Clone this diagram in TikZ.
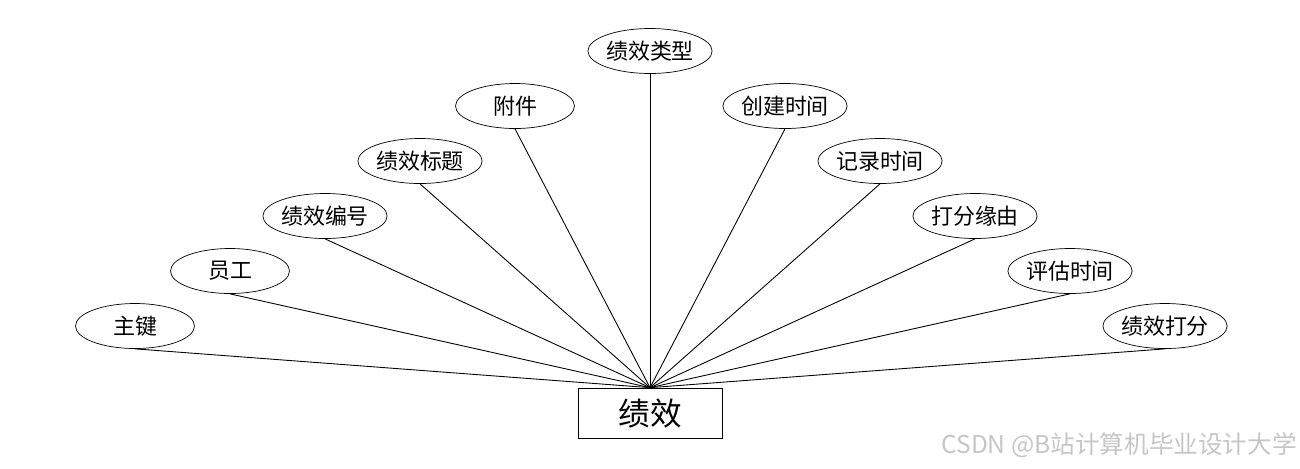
\documentclass[tikz,border=0pt]{standalone}
\usepackage{fontspec}
\setmainfont{Noto Sans CJK SC}
\usetikzlibrary{shapes.geometric}

\begin{document}
\begin{tikzpicture}[
  x=0.02cm, y=-0.02cm,
  font=\fontsize{12.5}{14}\selectfont,
  attr/.style={draw, ellipse, minimum width=2.38cm, minimum height=0.9cm, inner sep=0pt},
  ent/.style={draw, minimum width=2.88cm, minimum height=1cm, inner sep=0pt, font=\fontsize{18}{20}\selectfont},
  link/.style={line width=0.5pt}
]
\useasboundingbox (0,0) rectangle (1300,468);

% Entity
\node[ent] (jx) at (650,413) {绩效};

% Attributes, left side
\node[attr] (zj)   at (135,326) {主键};
\node[attr] (yg)   at (230,271) {员工};
\node[attr] (bh)   at (325,216) {绩效编号};
\node[attr] (bt)   at (420,161) {绩效标题};
\node[attr] (fj)   at (515,106) {附件};
% top
\node[attr] (lx)   at (650,51)  {绩效类型};
% right side
\node[attr] (cjsj) at (785,106) {创建时间};
\node[attr] (jlsj) at (880,161) {记录时间};
\node[attr] (dfyy) at (975,216) {打分缘由};
\node[attr] (pgsj) at (1070,271) {评估时间};
\node[attr] (jxdf) at (1165,326) {绩效打分};

% all attributes meet at the top of the entity
\foreach \a in {zj,yg,bh,bt,fj,lx,cjsj,jlsj,dfyy,pgsj,jxdf}
  \draw[link] (jx.north) -- (\a.south);

% watermark
\node[text=gray!45, font=\fontsize{14}{16}\selectfont, anchor=east, inner sep=0pt] (wm) at (1297,445) {CSDN @B站计算机毕业设计大学};

\end{tikzpicture}
\end{document}
